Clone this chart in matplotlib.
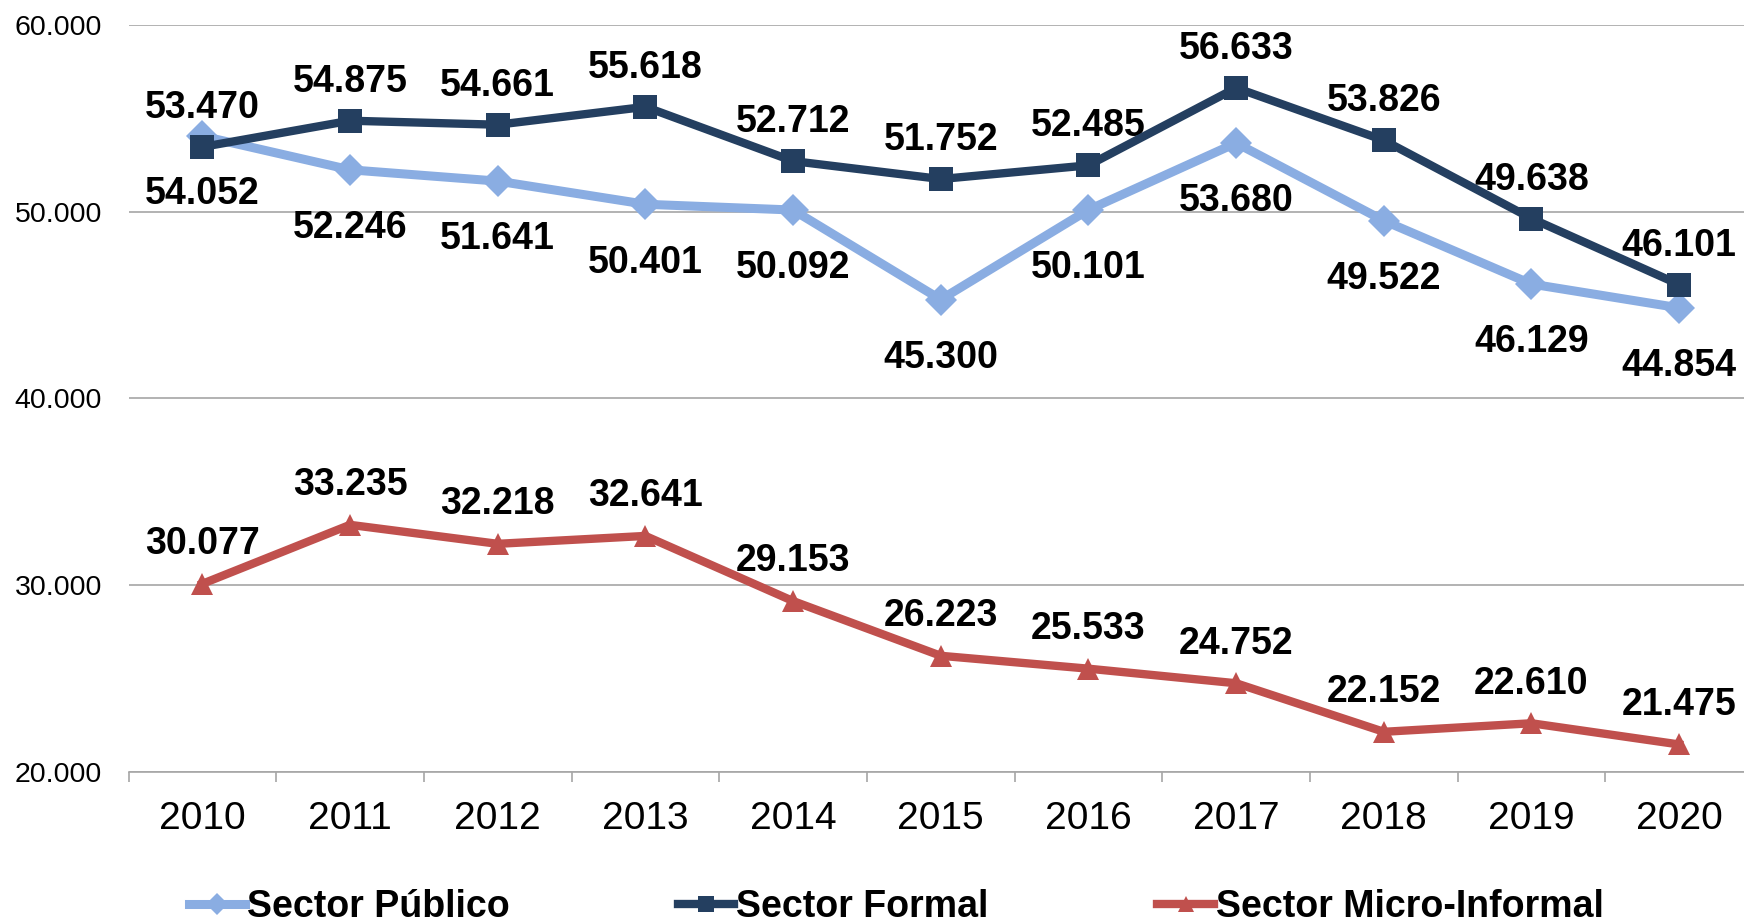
import numpy as np
import matplotlib
matplotlib.use("Agg")
import matplotlib.pyplot as plt

# ── data ─────────────────────────────────────────────────────────────────────
years = ["2010", "2011", "2012", "2013", "2014", "2015",
         "2016", "2017", "2018", "2019", "2020"]
publico = [54.052, 52.246, 51.641, 50.401, 50.092, 45.300,
           50.101, 53.680, 49.522, 46.129, 44.854]
formal = [53.470, 54.875, 54.661, 55.618, 52.712, 51.752,
          52.485, 56.633, 53.826, 49.638, 46.101]
micro = [30.077, 33.235, 32.218, 32.641, 29.153, 26.223,
         25.533, 24.752, 22.152, 22.610, 21.475]
yticks = [20, 30, 40, 50, 60]


def fmt(v):
    # thousands with dot, three decimals -> "53.470"
    return f"{v:.3f}"


plt.rcParams["font.family"] = ["Liberation Sans", "DejaVu Sans"]

W, H, DPI = 1744, 922, 100
fig = plt.figure(figsize=(W / DPI, H / DPI), dpi=DPI)
ax = fig.add_axes([128.5 / W, 1 - 772 / H, (1753 - 128.5) / W, (772 - 25) / H])

x = np.arange(len(years))
c_pub, c_for, c_mic = "#8AADE2", "#243F60", "#C0504D"

ax.plot(x, publico, color=c_pub, lw=6.5, marker="D", ms=16, mew=0,
        label="Sector Público", zorder=3, clip_on=False)
ax.plot(x, formal, color=c_for, lw=6, marker="s", ms=17, mew=0,
        label="Sector Formal", zorder=4, clip_on=False)
ax.plot(x, micro, color=c_mic, lw=6, marker="^", ms=16, mew=0,
        label="Sector Micro-Informal", zorder=3, clip_on=False)

lab_kw = dict(textcoords="offset points", ha="center", va="center",
              fontsize=27, fontweight="bold", annotation_clip=False)
for i in x:
    ax.annotate(fmt(publico[i]), (i, publico[i]), xytext=(0, -42), **lab_kw)
    ax.annotate(fmt(formal[i]), (i, formal[i]), xytext=(0, 28), **lab_kw)
    ax.annotate(fmt(micro[i]), (i, micro[i]), xytext=(0, 28.5), **lab_kw)

ax.set_xlim(-0.5, 10.5)
ax.set_ylim(20, 60)
ax.set_yticks(yticks)
ax.set_yticklabels([f"{v}.000" for v in yticks])
ax.yaxis.grid(True, color="#A6A6A6", lw=1.2)
ax.set_axisbelow(True)

ax.set_xticks(x)
ax.set_xticklabels(years)
ax.set_xticks(np.arange(-0.5, 11, 1), minor=True)
ax.tick_params(axis="x", which="major", length=0, pad=21, labelsize=28)
ax.tick_params(axis="x", which="minor", length=7, width=1.2, color="#A6A6A6")
ax.tick_params(axis="y", length=0, pad=19, labelsize=20.5)

for s in ["left", "right", "top"]:
    ax.spines[s].set_visible(False)
ax.spines["bottom"].set_color("#A6A6A6")
ax.spines["bottom"].set_linewidth(1.2)

fig.legend(loc="center", bbox_to_anchor=(896 / W, 1 - 907 / H), ncol=3,
           frameon=False, prop=dict(size=27, weight="bold"), markerscale=0.7,
           handlelength=1.5, handletextpad=0.05, columnspacing=4.5)

fig.savefig("out.png", dpi=DPI)
